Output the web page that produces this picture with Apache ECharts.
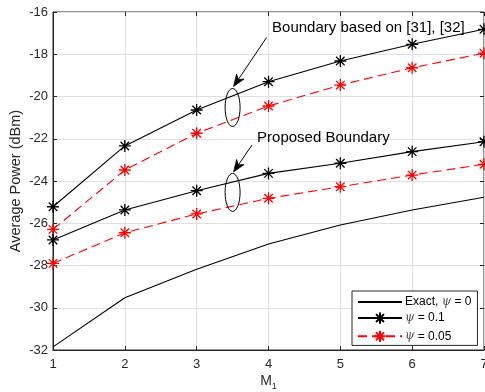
<!DOCTYPE html>
<html>
<head>
<meta charset="utf-8">
<script src="https://cdn.jsdelivr.net/npm/echarts@6/dist/echarts.min.js"></script>
<style>
html, body { margin: 0; padding: 0; background: #fff; }
#chartDiv { width: 485px; height: 392px; }
</style>
</head>
<body>
<div id="chartDiv"></div>
<script>
// 数据
const mValues = [1, 2, 3, 4, 5, 6, 7];
const exactPsi0 = [-31.85, -29.53, -28.18, -26.98, -26.08, -25.37, -24.77];
const refPsi01 = [-25.22, -22.34, -20.64, -19.30, -18.32, -17.53, -16.82];
const refPsi005 = [-26.29, -23.48, -21.74, -20.45, -19.46, -18.64, -17.95];
const propPsi01 = [-26.79, -25.37, -24.46, -23.64, -23.16, -22.61, -22.14];
const propPsi005 = [-27.90, -26.45, -25.56, -24.82, -24.27, -23.72, -23.21];
const seriesNames = ['Exact, ψ = 0', 'ψ = 0.1', 'ψ = 0.05'];

// 标注: 椭圆中心 (数据坐标), 文字
const ellipseCenters = [[3.5, -20.52], [3.5, -24.54]];
const noteTexts = ['Boundary based on [31], [32]', 'Proposed Boundary'];

const FONT = '"Liberation Sans", Arial, sans-serif';
const asterisk = 'path://M0,-10L0,10M-10,0L10,0M-7.07,-7.07L7.07,7.07M-7.07,7.07L7.07,-7.07';

let myChart = echarts.init(document.getElementById('chartDiv'));

function pairs(ys) {
    return mValues.map(function (x, i) { return [x, ys[i]]; });
}

function markerLine(name, ys, color, dashed) {
    return {
        name: name,
        type: 'line',
        data: pairs(ys),
        symbol: asterisk,
        symbolSize: 12,
        showAllSymbol: true,
        itemStyle: { color: 'none', borderColor: color, borderWidth: 1.3 },
        lineStyle: { color: color, width: 1.1, type: dashed ? [9, 5] : 'solid' },
        z: 3
    };
}

// 右侧/上方只画刻度 (box on)
let boxAxis = {
    axisLine: { show: false },
    axisTick: { show: true, inside: true, length: 4, lineStyle: { color: '#262626' } },
    axisLabel: { show: false },
    splitLine: { show: false }
};

let option = {
    backgroundColor: '#fff',
    animation: false,
    grid: {
        left: 53, right: 1, top: 12, bottom: 42,
        outerBoundsMode: 'none',
        containLabel: false,
        show: true, borderColor: '#262626', borderWidth: 1
    },
    legend: {
        data: seriesNames,
        orient: 'vertical',
        left: 352, top: 291,
        width: 125,
        padding: [5, 6, 1, 5],
        itemGap: 2,
        itemWidth: 44,
        itemHeight: 14,
        backgroundColor: '#fff',
        borderColor: '#262626',
        borderWidth: 1,
        borderRadius: 0,
        selectedMode: false,
        textStyle: {
            fontFamily: FONT, fontSize: 12, color: '#000', padding: [0, 0, 0, -2],
            rich: {
                p: { fontFamily: '"DejaVu Serif", serif', fontStyle: 'italic', fontSize: 12, color: '#555' }
            }
        },
        formatter: function (name) { return name.replace('ψ', '{p|ψ}'); }
    },
    xAxis: [{
        type: 'value',
        min: 1, max: 7, interval: 1,
        name: 'M{s|1}',
        nameLocation: 'middle',
        nameGap: 22,
        nameMoveOverlap: false,
        nameTextStyle: {
            fontFamily: FONT, fontSize: 14, color: '#262626',
            rich: { s: { fontFamily: FONT, fontSize: 9, color: '#262626', padding: [10, 0, 0, 0] } }
        },
        axisLine: { show: true, lineStyle: { color: '#262626' } },
        axisTick: { show: true, inside: true, length: 4, lineStyle: { color: '#262626' } },
        axisLabel: { fontFamily: FONT, fontSize: 13, color: '#262626', margin: 8 },
        splitLine: { show: true, lineStyle: { color: '#dfdfdf', width: 1 } }
    }, Object.assign({ type: 'value', position: 'top', min: 1, max: 7, interval: 1 }, boxAxis)],
    yAxis: [{
        type: 'value',
        min: -32, max: -16, interval: 2,
        name: 'Average Power (dBm)',
        nameLocation: 'middle',
        nameGap: 30,
        nameMoveOverlap: false,
        nameTextStyle: { fontFamily: FONT, fontSize: 14.5, color: '#262626' },
        axisLine: { show: true, lineStyle: { color: '#262626' } },
        axisTick: { show: true, inside: true, length: 4, lineStyle: { color: '#262626' } },
        axisLabel: { fontFamily: FONT, fontSize: 13, color: '#262626', margin: 5 },
        splitLine: { show: true, lineStyle: { color: '#dfdfdf', width: 1 } }
    }, Object.assign({ type: 'value', position: 'right', min: -32, max: -16, interval: 2 }, boxAxis)],
    series: [
        {
            name: seriesNames[0],
            type: 'line',
            data: pairs(exactPsi0),
            symbol: 'none',
            lineStyle: { color: '#000', width: 1.1 },
            itemStyle: { color: 'rgba(0,0,0,0)', borderWidth: 0 },
            z: 3
        },
        markerLine(seriesNames[1], refPsi01, '#000', false),
        markerLine(seriesNames[2], refPsi005, '#ff0000', true),
        markerLine(seriesNames[1], propPsi01, '#000', false),
        markerLine(seriesNames[2], propPsi005, '#ff0000', true)
    ]
};
myChart.setOption(option);

// 箭头 + 椭圆 + 文字
function arrow(from, to) {
    let dx = to[0] - from[0], dy = to[1] - from[1];
    let len = Math.sqrt(dx * dx + dy * dy);
    let ux = dx / len, uy = dy / len;
    let hl = 12, hw = 4.5;
    let bx = to[0] - ux * hl, by = to[1] - uy * hl;
    let mx = to[0] - ux * hl * 0.7, my = to[1] - uy * hl * 0.7;
    return [
        { type: 'line', shape: { x1: from[0], y1: from[1], x2: mx, y2: my },
          style: { stroke: '#000', lineWidth: 1 }, z: 10 },
        { type: 'polygon',
          shape: { points: [to, [bx - uy * hw, by + ux * hw], [mx, my], [bx + uy * hw, by - ux * hw]] },
          style: { fill: '#000', stroke: '#000', lineWidth: 0.8 }, z: 10 }
    ];
}

let graphics = [];
let c1 = myChart.convertToPixel({ gridIndex: 0 }, ellipseCenters[0]);
let c2 = myChart.convertToPixel({ gridIndex: 0 }, ellipseCenters[1]);
[c1, c2].forEach(function (c) {
    graphics.push({
        type: 'ellipse',
        shape: { cx: c[0], cy: c[1], rx: 7.5, ry: 19 },
        style: { fill: 'none', stroke: '#000', lineWidth: 1 },
        z: 10
    });
});
graphics = graphics.concat(arrow([c1[0] + 34, c1[1] - 70], [c1[0] + 1, c1[1] - 21]));
graphics = graphics.concat(arrow([c2[0] + 19.5, c2[1] - 47.5], [c2[0] + 1, c2[1] - 20.5]));
graphics.push({
    type: 'text', x: c1[0] + 39.5, y: c1[1] - 79.5,
    style: { text: noteTexts[0], fontFamily: FONT, fontSize: 15, fill: '#000', textVerticalAlign: 'middle' },
    z: 10
});
graphics.push({
    type: 'text', x: c2[0] + 24.5, y: c2[1] - 54.5,
    style: { text: noteTexts[1], fontFamily: FONT, fontSize: 15, fill: '#000', textVerticalAlign: 'middle' },
    z: 10
});
myChart.setOption({ graphic: graphics });
</script>
</body>
</html>
